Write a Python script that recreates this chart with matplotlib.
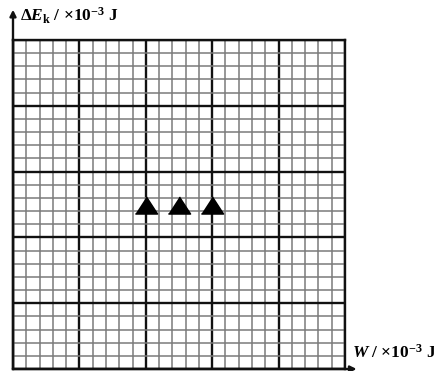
import numpy as np
import matplotlib
matplotlib.use("Agg")
import matplotlib.pyplot as plt

# Data
w_values = [10, 12.5, 15]          # W / x10^-3 J
dek_values = [12.5, 12.5, 12.5]    # dEk / x10^-3 J
x_major = [0, 5, 10, 15, 20, 25]
y_major = [0, 5, 10, 15, 20, 25]
x_minor = list(range(0, 26))
y_minor = list(range(0, 26))
xlabel_text = r"$W$ / ×10$^{-3}$ J"
ylabel_text = r"$\Delta E_\mathrm{k}$ / ×10$^{-3}$ J"

plt.rcParams['mathtext.fontset'] = 'custom'
plt.rcParams['mathtext.rm'] = 'Liberation Serif:bold'
plt.rcParams['mathtext.it'] = 'Liberation Serif:italic:bold'
plt.rcParams['mathtext.bf'] = 'Liberation Serif:bold'
plt.rcParams['font.family'] = ['Liberation Serif', 'DejaVu Serif']

W, H = 435, 371
fig = plt.figure(figsize=(W / 100, H / 100), dpi=100)
left, right, top, bottom = 13, 345, 40, 369
ax = fig.add_axes([left / W, (H - bottom) / H, (right - left) / W, (bottom - top) / H])
ax.set_xlim(0, 25)
ax.set_ylim(0, 25)

ax.set_xticks(x_major)
ax.set_yticks(y_major)
ax.set_xticks(x_minor, minor=True)
ax.set_yticks(y_minor, minor=True)
ax.tick_params(which='both', length=0, labelbottom=False, labelleft=False)
ax.grid(which='minor', color='#7a7a7a', linewidth=1.1)
ax.grid(which='major', color='#111111', linewidth=1.7)
ax.set_axisbelow(True)
for s in ax.spines.values():
    s.set_color('#111111')
    s.set_linewidth(1.7)

tri = [(-1, -0.77), (1, -0.77), (0, 0.77)]
ax.plot(w_values, dek_values, linestyle='none', marker=tri, markersize=16,
        color='black', zorder=5, clip_on=False)

# axis arrows
ax.annotate('', xy=(0, 1.092), xytext=(0, 0), xycoords='axes fraction',
            arrowprops=dict(arrowstyle='-|>', color='#111111', lw=1.7,
                            mutation_scale=9, shrinkA=0, shrinkB=0),
            annotation_clip=False)
ax.annotate('', xy=(1.035, 0), xytext=(0, 0), xycoords='axes fraction',
            arrowprops=dict(arrowstyle='-|>', color='#111111', lw=1.7,
                            mutation_scale=9, shrinkA=0, shrinkB=0),
            annotation_clip=False)

fig.text(20 / W, 1 - 16 / H, ylabel_text, fontsize=12.5, va='center', ha='left',
         fontweight='bold')
fig.text(352 / W, 1 - 353 / H, xlabel_text, fontsize=12.5, va='center', ha='left',
         fontweight='bold')

fig.savefig('out.png', dpi=100)
